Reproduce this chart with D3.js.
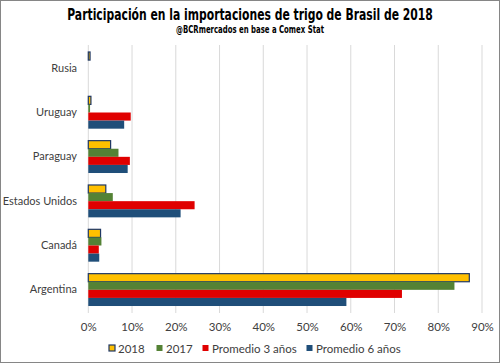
<!DOCTYPE html>
<html>
<head>
<meta charset="utf-8">
<title>Participación en la importaciones de trigo de Brasil de 2018</title>
<script src="https://cdn.jsdelivr.net/npm/d3@7"></script>
<style>
  body { margin: 0; background: #fff; }
  svg text { font-family: Lato, "Liberation Sans", sans-serif; }
</style>
</head>
<body>
<div id="chart"></div>
<script>
// Data
var countries = ["Rusia", "Uruguay", "Paraguay", "Estados Unidos", "Canadá", "Argentina"];
var seriesNames = ["2018", "2017", "Promedio 3 años", "Promedio 6 años"];
var v2018 = [0.004, 0.006, 0.051, 0.040, 0.028, 0.871];
var v2017 = [0.000, 0.004, 0.069, 0.056, 0.030, 0.837];
var prom3 = [0.000, 0.097, 0.095, 0.243, 0.024, 0.717];
var prom6 = [0.000, 0.082, 0.090, 0.211, 0.025, 0.590];
var xTicks = [0, 0.1, 0.2, 0.3, 0.4, 0.5, 0.6, 0.7, 0.8, 0.9];

var colors = ["#FFC000", "#548235", "#E00000", "#1F4E79"];
var values = [v2018, v2017, prom3, prom6];

var width = 500, height = 363;
var margin = { top: 46, right: 18, bottom: 51, left: 88 };

var svg = d3.select("#chart").append("svg")
  .attr("width", width)
  .attr("height", height);

// outer frame
svg.append("rect")
  .attr("x", 0.5).attr("y", 0.5)
  .attr("width", width - 1).attr("height", height - 1)
  .attr("fill", "#fff").attr("stroke", "#868686");

// Title: squeeze a bold font horizontally to get the condensed look
function condensedText(str, cx, cy, size, targetW) {
  var t = svg.append("text")
    .attr("text-anchor", "middle")
    .style("font-family", "'DejaVu Sans', sans-serif")
    .style("font-weight", "bold")
    .style("font-size", size + "px")
    .attr("fill", "#000")
    .text(str);
  var w = t.node().getComputedTextLength();
  var k = Math.min(1, targetW / w);
  t.attr("transform", "translate(" + cx + "," + cy + ") scale(" + k + ",1)");
}
condensedText("Participación en la importaciones de trigo de Brasil de 2018", 250, 20, 15, 366);
condensedText("@BCRmercados en base a Comex Stat", 250, 33, 11, 148);

// Scales
var x = d3.scaleLinear()
  .domain([0, 0.9])
  .range([margin.left + 0.3, width - margin.right]);

var y0 = d3.scaleBand()
  .domain(countries)
  .range([margin.top, height - margin.bottom])
  .padding(0);

var y1 = d3.scaleBand()
  .domain(seriesNames)
  .range([0, y0.bandwidth()])
  .paddingInner(0)
  .paddingOuter(0.74);

// Gridlines
svg.append("g")
  .selectAll("line")
  .data(xTicks)
  .join("line")
  .attr("x1", d => x(d)).attr("x2", d => x(d))
  .attr("y1", margin.top - 1).attr("y2", height - margin.bottom + 1)
  .attr("stroke", "#D9D9D9")
  .attr("stroke-width", 1);

// X axis labels
var xAxis = d3.axisBottom(x)
  .tickValues(xTicks)
  .tickFormat(d3.format(".0%"))
  .tickSize(0)
  .tickPadding(9);

var gx = svg.append("g")
  .attr("transform", "translate(0," + (height - margin.bottom + 2) + ")")
  .call(xAxis);
gx.select(".domain").remove();
gx.selectAll("text")
  .attr("fill", "#404040")
  .style("font-size", "11.5px")
  .style("font-family", "Lato, sans-serif");

// Y axis labels
var yAxis = d3.axisLeft(y0).tickSize(0).tickPadding(9);
var gy = svg.append("g")
  .attr("transform", "translate(" + (margin.left - 2) + ",0)")
  .call(yAxis);
gy.select(".domain").remove();
gy.selectAll("text")
  .attr("fill", "#404040")
  .style("font-size", "11px")
  .style("font-family", "Lato, sans-serif");

// Bars
var rows = countries.map((c, i) => ({
  country: c,
  vals: seriesNames.map((s, j) => ({ series: s, idx: j, value: values[j][i] }))
}));

svg.append("g")
  .selectAll("g")
  .data(rows)
  .join("g")
  .attr("transform", d => "translate(0," + y0(d.country) + ")")
  .selectAll("rect")
  .data(d => d.vals.filter(v => v.value > 0))
  .join("rect")
  .attr("x", x(0))
  .attr("y", d => y1(d.series))
  .attr("width", d => x(d.value) - x(0))
  .attr("height", y1.bandwidth())
  .attr("fill", d => colors[d.idx])
  .attr("stroke", d => d.idx === 0 ? "#203864" : "none")
  .attr("stroke-width", d => d.idx === 0 ? 1.2 : 0);

// Legend
var legendX = [108, 156, 202, 306];
var legend = svg.append("g")
  .attr("transform", "translate(0," + 349 + ")");

var items = legend.selectAll("g")
  .data(seriesNames)
  .join("g")
  .attr("transform", (d, i) => "translate(" + legendX[i] + ",0)");

items.append("rect")
  .attr("x", (d, i) => i === 0 ? 1 : 0.5)
  .attr("y", -4)
  .attr("width", 6)
  .attr("height", 6)
  .attr("fill", (d, i) => colors[i])
  .attr("stroke", (d, i) => i === 0 ? "#203864" : "none")
  .attr("stroke-width", 1.2);

items.append("text")
  .attr("x", 10)
  .attr("y", 4)
  .attr("fill", "#404040")
  .style("font-size", "11.5px")
  .style("font-family", "Lato, sans-serif")
  .text(d => d);
</script>
</body>
</html>
